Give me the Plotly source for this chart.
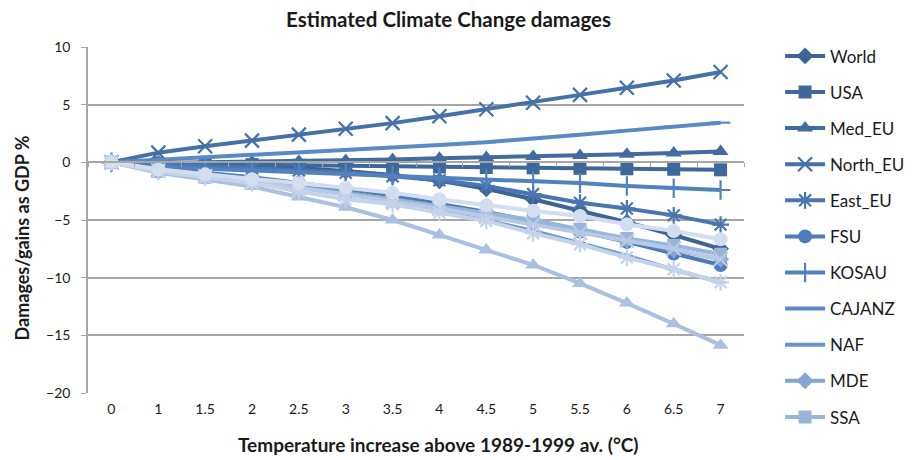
import plotly.graph_objects as go

temps = ["0", "1", "1.5", "2", "2.5", "3", "3.5", "4", "4.5", "5", "5.5", "6", "6.5", "7"]

world    = [0, -0.1, -0.2, -0.3, -0.5, -0.75, -1.1, -1.6, -2.3, -3.2, -4.2, -5.2, -6.3, -7.5]
usa      = [0, -0.1, -0.15, -0.2, -0.25, -0.3, -0.35, -0.4, -0.45, -0.48, -0.52, -0.56, -0.6, -0.65]
med_eu   = [0, -0.05, 0, 0.05, 0.1, 0.15, 0.25, 0.35, 0.42, 0.5, 0.6, 0.7, 0.8, 0.95]
north_eu = [0, 0.84, 1.4, 1.88, 2.4, 2.92, 3.4, 4.0, 4.6, 5.17, 5.85, 6.47, 7.1, 7.83]
east_eu  = [0, -0.2, -0.35, -0.5, -0.7, -0.9, -1.2, -1.55, -2.05, -2.75, -3.5, -4.0, -4.6, -5.4]
fsu      = [0, -0.5, -0.9, -1.3, -1.8, -2.3, -2.9, -3.6, -4.3, -5.1, -6.0, -6.9, -7.9, -8.9]
kosau    = [0, -0.35, -0.55, -0.7, -0.85, -1.0, -1.15, -1.3, -1.45, -1.6, -1.8, -2.05, -2.25, -2.4]
cajanz   = [0, 0.25, 0.45, 0.65, 0.85, 1.05, 1.28, 1.5, 1.75, 2.05, 2.4, 2.75, 3.1, 3.44]
naf      = [0, -0.6, -1.0, -1.5, -2.0, -2.6, -3.3, -4.1, -5.0, -5.95, -7.0, -8.1, -9.3, -10.4]
mde      = [0, -0.8, -1.25, -1.7, -2.2, -2.75, -3.3, -3.9, -4.5, -5.2, -5.95, -6.75, -7.6, -8.4]
ssa      = [0, -0.8, -1.3, -1.7, -2.2, -2.7, -3.2, -3.8, -4.4, -5.0, -5.8, -6.6, -7.2, -7.97]
s12      = [0, -0.9, -1.5, -2.1, -3.0, -3.9, -5.0, -6.3, -7.6, -8.9, -10.5, -12.2, -14.0, -15.85]
s13      = [0, -0.7, -1.2, -1.7, -2.2, -2.8, -3.4, -4.0, -4.7, -5.4, -6.1, -6.8, -7.5, -8.4]
s14      = [0, -0.8, -1.3, -1.8, -2.5, -3.2, -3.64, -4.36, -5.08, -6.15, -7.1, -8.26, -9.27, -10.4]
s15      = [0, -0.6, -1.04, -1.47, -1.82, -2.2, -2.63, -3.2, -3.73, -4.2, -4.65, -5.37, -5.95, -6.67]

series_names = ["World", "USA", "Med_EU", "North_EU", "East_EU", "FSU", "KOSAU",
                "CAJANZ", "NAF", "MDE", "SSA", "Series 12", "Series 13", "Series 14", "Series 15"]
series_values = [world, usa, med_eu, north_eu, east_eu, fsu, kosau, cajanz, naf,
                 mde, ssa, s12, s13, s14, s15]
in_legend = [True] * 11 + [False] * 4

colors = ["#3C6494", "#3E679A", "#416CA1", "#4571A9", "#4976B0", "#4D7CB8", "#5182BE",
          "#5A8AC6", "#6893CB", "#82A5D3", "#98B4DA", "#A9C0E0", "#B7CAE5", "#C4D3EA",
          "#D2DDEF"]
symbols = ["diamond", "square", "triangle-up", "x-thin-open", "asterisk-open", "circle",
           "cross-thin-open", "line-ew-open", "line-ew-open", "diamond", "square",
           "triangle-up", "x-thin-open", "asterisk-open", "circle"]
sizes = [13, 13, 14, 14, 14, 14, 14, 14, 8, 13, 13, 14, 14, 14, 14]

fig = go.Figure()
for name, vals, col, sym, sz, leg in zip(series_names, series_values, colors, symbols, sizes, in_legend):
    open_sym = sym.endswith("-open")
    fig.add_trace(go.Scatter(
        x=temps, y=vals, name=name, mode="lines+markers",
        line=dict(color=col, width=4),
        marker=dict(symbol=sym, size=sz, color=col,
                    line=dict(color=col, width=(2.2 if open_sym else 0))),
        showlegend=leg, legendgroup=name,
    ))

# axis line crossing at y = 0 (category axis of the original chart)
fig.add_trace(go.Scatter(x=temps, y=[None] * len(temps), xaxis="x2", yaxis="y",
                         showlegend=False, hoverinfo="skip", mode="lines"))

grid = "#A6A6A6"
fig.update_layout(
    width=914, height=460,
    margin=dict(l=80, r=167, t=39, b=75),
    paper_bgcolor="white", plot_bgcolor="white",
    font=dict(family="Lato", color="#1a1a1a"),
    title=dict(text="<b>Estimated Climate Change damages</b>", x=0.482, xref="container",
               xanchor="center", y=0.975, yref="container", yanchor="middle",
               font=dict(size=20.5, family="Lato", color="#1a1a1a")),
    xaxis=dict(type="category", categoryarray=temps, range=[-0.5, 13.5],
               showgrid=False, showline=False, ticks="", zeroline=False,
               tickfont=dict(size=14), ticklabelstandoff=6),
    xaxis2=dict(type="category", categoryarray=temps, overlaying="x", matches="x",
                anchor="free", position=20 / 30, showgrid=False, showline=True,
                linecolor=grid, linewidth=1.5, ticks="outside", ticklen=4,
                tickcolor=grid, tickson="boundaries", showticklabels=False),
    yaxis=dict(range=[-20, 10], dtick=5, showgrid=True, gridcolor=grid, gridwidth=1.5,
               zeroline=False, showline=True, linecolor=grid, linewidth=1.5,
               ticks="outside", ticklen=5, tickcolor=grid, tickfont=dict(size=14),
               ticklabelstandoff=8),
    legend=dict(x=1.055, xanchor="left", y=1.025, yanchor="top",
                font=dict(size=17, family="Lato"), itemwidth=40, tracegroupgap=11,
                maxheight=440, bgcolor="rgba(0,0,0,0)"),
    annotations=[
        dict(text="<b>Temperature increase above 1989-1999 av. (°C)</b>", xref="paper",
             yref="paper", x=0.535, y=-0.15, xanchor="center", yanchor="middle",
             showarrow=False, font=dict(size=19)),
        dict(text="<b>Damages/gains as GDP %</b>", xref="paper", yref="paper",
             x=-0.1, y=0.448, xanchor="center", yanchor="middle", textangle=-90,
             showarrow=False, font=dict(size=18)),
    ],
)

fig.write_html("out.html")
